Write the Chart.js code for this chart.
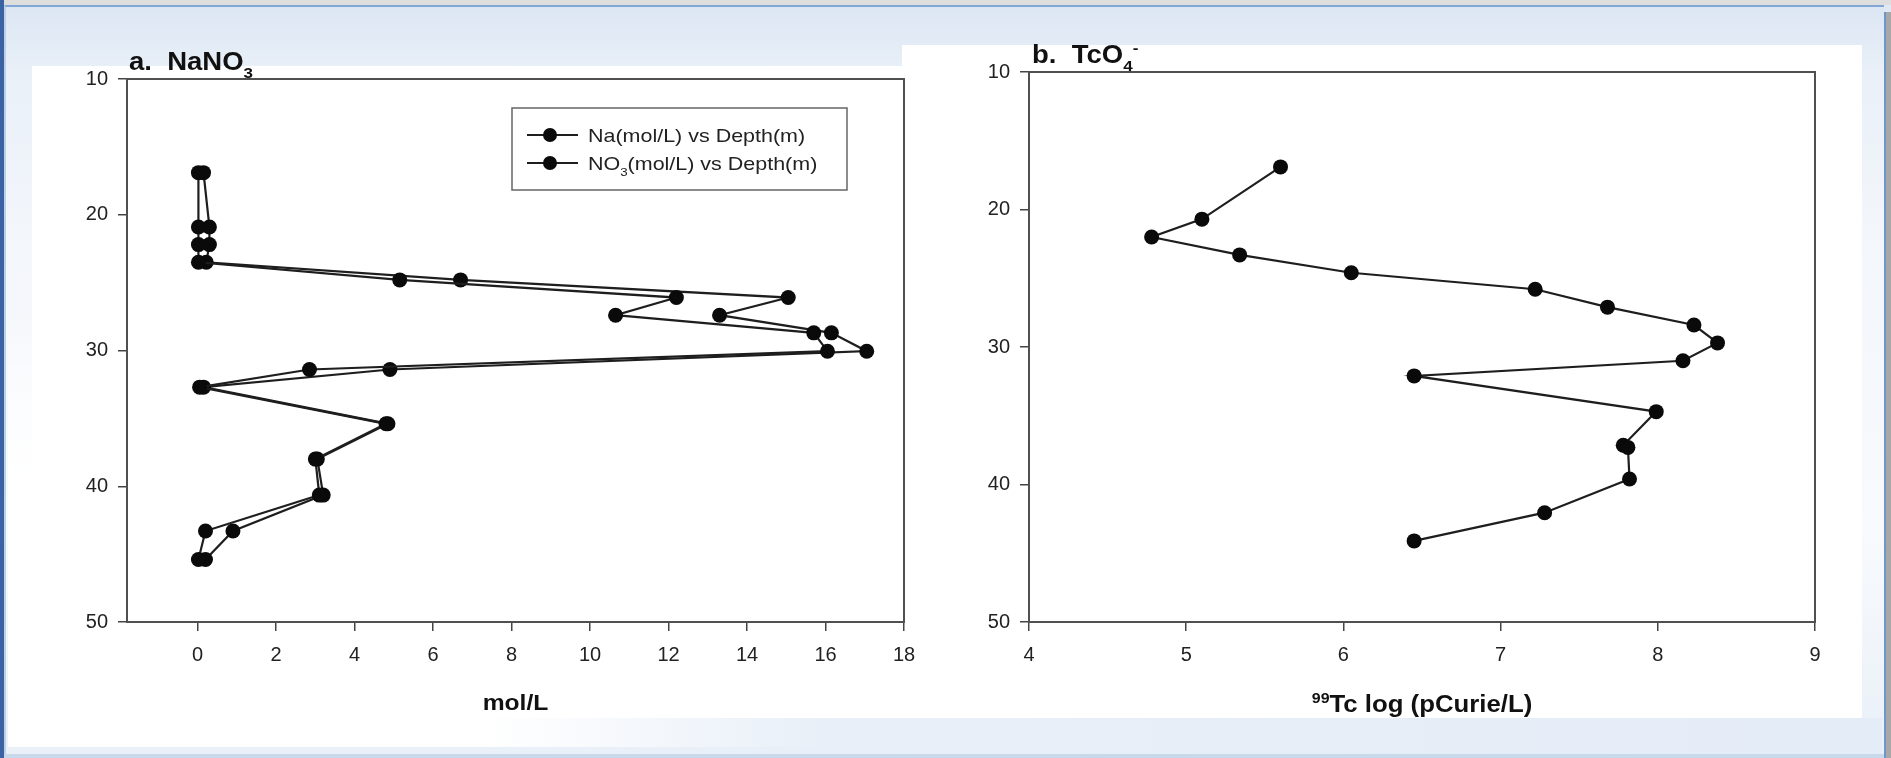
<!DOCTYPE html>
<html>
<head>
<meta charset="utf-8">
<script src="https://cdn.jsdelivr.net/npm/chart.js@4/dist/chart.umd.min.js"></script>
<style>
  html, body { margin: 0; padding: 0; }
  body { width: 1891px; height: 758px; overflow: hidden; position: relative; background: #dfe8f4; }
  .abs { position: absolute; }
  #slide { left: 4px; top: 5px; width: 1878px; height: 750px;
    background: linear-gradient(180deg, #dce6f3 0%, #e9f0f8 9%, #f3f6fb 30%, #f8fafd 70%, #e9f0f8 100%);
    border-top: 2px solid #80a7d6; border-left: 2px solid #bcd0e8; }
  #topband { left: 0; top: 0; width: 1891px; height: 5px; background: #dedede; }
  #leftstrip { left: 0; top: 0; width: 4px; height: 758px; background: #3b62a3; }
  #rightgrey { left: 1884px; top: 12px; width: 7px; height: 746px; background: #a8a8a8; border-left: 2px solid #6e96c8; }
  #panelA { left: 32px; top: 66px; width: 873px; height: 681px; background: #fff; }
  #panelA2 { left: 8px; top: 300px; width: 30px; height: 447px; background: linear-gradient(180deg, rgba(255,255,255,0), #fff 40%); }
  #panelB { left: 902px; top: 45px; width: 960px; height: 675px; background: #fff; }
  #bottomband { left: 480px; top: 718px; width: 1402px; height: 37px;
    background: linear-gradient(90deg, rgba(230,238,248,0) 0%, #e8eff8 25%, #e4ecf7 100%); }
  #bottomline { left: 4px; top: 754px; width: 1880px; height: 4px; background: #c9d9ec; }
  canvas { position: absolute; top: 0; }
</style>
</head>
<body>
<div id="topband" class="abs"></div>
<div id="slide" class="abs"></div>
<div id="leftstrip" class="abs"></div>
<div id="rightgrey" class="abs"></div>
<div id="panelA" class="abs"></div>
<div id="panelA2" class="abs"></div>
<div id="panelB" class="abs"></div>
<div id="bottomband" class="abs"></div>
<div id="bottomline" class="abs"></div>
<canvas id="chartA" width="945" height="758" style="left:0"></canvas>
<canvas id="chartB" width="946" height="758" style="left:945px"></canvas>
<script>
// Panel a: NaNO3 profile
const depthA = [16.9, 20.9, 22.2, 23.5, 24.8, 26.1, 27.4, 28.7, 30.05, 31.4, 32.7, 35.4, 38.0, 40.65, 43.3, 45.4];
const naMol  = [0.02, 0.02, 0.02, 0.02, 5.15, 12.2, 10.65, 15.7, 16.05, 2.85, 0.05, 4.8, 3.0, 3.1, 0.2, 0.02];
const no3Mol = [0.15, 0.3, 0.3, 0.22, 6.7, 15.05, 13.3, 16.15, 17.05, 4.9, 0.15, 4.85, 3.05, 3.2, 0.9, 0.2];
const xTicksA = [0, 2, 4, 6, 8, 10, 12, 14, 16, 18];

// Panel b: TcO4- profile
const depthB = [16.9, 20.7, 22.0, 23.3, 24.6, 25.8, 27.1, 28.4, 29.7, 31.0, 32.1, 34.7, 37.15, 37.3, 39.6, 42.05, 44.1];
const tcLog  = [5.60, 5.10, 4.78, 5.34, 6.05, 7.22, 7.68, 8.23, 8.38, 8.16, 6.45, 7.99, 7.78, 7.81, 7.82, 7.28, 6.45];
const xTicksB = [4, 5, 6, 7, 8, 9];
const yTicks = [10, 20, 30, 40, 50];

// text with sub/superscripts
const titleA = [{ t: 'a.  NaNO' }, { t: '3', sub: true }];
const titleB = [{ t: 'b.  TcO' }, { t: '4', sub: true }, { t: '-', sup: true }];
const xTitleA = [{ t: 'mol/L' }];
const xTitleB = [{ t: '99', sup: true }, { t: 'Tc log (pCurie/L)' }];
const legendA = [
    [{ t: 'Na(mol/L) vs Depth(m)' }],
    [{ t: 'NO' }, { t: '3', sub: true }, { t: '(mol/L) vs Depth(m)' }]
];

const FONT = '"Liberation Sans", Arial, Helvetica, sans-serif';
const toPts = (xs, ys) => xs.map((v, i) => ({ x: v, y: ys[i] }));

function runFont(size, bold) {
    return (bold ? 'bold ' : '') + size + 'px ' + FONT;
}

function drawRuns(ctx, runs, x, y, o) {
    const sx = o.sx || 1;
    ctx.save();
    ctx.fillStyle = o.color || '#111';
    ctx.textAlign = 'left';
    ctx.textBaseline = 'alphabetic';
    const parts = runs.map(r => {
        const size = (r.sub || r.sup) ? o.size * 0.62 : o.size;
        ctx.font = runFont(size, o.bold);
        return {
            text: r.t, size,
            dy: r.sub ? o.size * 0.3 : (r.sup ? -o.size * 0.4 : 0),
            w: ctx.measureText(r.t).width * sx
        };
    });
    const total = parts.reduce((a, p) => a + p.w, 0);
    let cx = o.align === 'center' ? x - total / 2 : x;
    parts.forEach(p => {
        ctx.font = runFont(p.size, o.bold);
        ctx.save();
        ctx.translate(cx, y + p.dy);
        ctx.scale(sx, 1);
        ctx.fillText(p.text, 0, 0);
        ctx.restore();
        cx += p.w;
    });
    ctx.restore();
}

// titles, axis titles and the boxed legend
const richText = {
    id: 'richText',
    afterDraw(chart, args, opts) {
        const ctx = chart.ctx;
        const a = chart.chartArea;
        (opts.items || []).forEach(it => {
            const [x, y] = it.at(a);
            drawRuns(ctx, it.runs, x, y, it);
        });
        const lg = opts.legend;
        if (lg) {
            const bx = a.left + lg.dx, by = a.top + lg.dy;
            ctx.save();
            ctx.fillStyle = '#fff';
            ctx.fillRect(bx, by, lg.w, lg.h);
            ctx.strokeStyle = '#666';
            ctx.lineWidth = 1.5;
            ctx.strokeRect(bx, by, lg.w, lg.h);
            lg.labels.forEach((runs, i) => {
                const ds = chart.data.datasets[i];
                const ly = by + lg.rows[i];
                ctx.strokeStyle = ds.borderColor;
                ctx.lineWidth = ds.borderWidth;
                ctx.beginPath();
                ctx.moveTo(bx + 15, ly);
                ctx.lineTo(bx + 66, ly);
                ctx.stroke();
                ctx.fillStyle = ds.pointBackgroundColor;
                ctx.beginPath();
                ctx.arc(bx + 38, ly, 7, 0, Math.PI * 2);
                ctx.fill();
                drawRuns(ctx, runs, bx + 76, ly + 7, { size: 19, sx: 1.13, color: '#222' });
            });
            ctx.restore();
        }
    }
};

function seriesStyle(label, data) {
    return {
        label, data, showLine: true,
        borderColor: '#1e1e1e', borderWidth: 2.2,
        pointRadius: 7.5, pointHoverRadius: 7.5,
        pointBackgroundColor: '#0a0a0a', pointBorderColor: '#0a0a0a', pointBorderWidth: 0
    };
}

function makeScales(xMin, xMax, xTicks, yW) {
    const tickFont = { family: FONT, size: 20 };
    const axisGrid = { display: true, drawOnChartArea: false, drawTicks: true, tickLength: 9, color: '#444', lineWidth: 1.5 };
    const axisBorder = { display: true, color: '#505050', width: 2 };
    return {
        x: {
            type: 'linear', position: 'bottom', min: xMin, max: xMax,
            afterBuildTicks: s => { s.ticks = xTicks.map(v => ({ value: v })); },
            afterFit: s => { s.height = 50; },
            ticks: { font: tickFont, color: '#222', padding: 12, maxRotation: 0, autoSkip: false },
            grid: axisGrid, border: axisBorder
        },
        y: {
            type: 'linear', position: 'left', min: 10, max: 50, reverse: true,
            afterBuildTicks: s => { s.ticks = yTicks.map(v => ({ value: v })); },
            afterFit: s => { s.width = yW; },
            ticks: { font: tickFont, color: '#222', padding: 10 },
            grid: axisGrid, border: axisBorder
        },
        x2: {
            type: 'linear', position: 'top', min: xMin, max: xMax,
            afterFit: s => { s.height = 0; },
            ticks: { display: false }, grid: { display: false }, border: axisBorder
        },
        y2: {
            type: 'linear', position: 'right', min: 10, max: 50, reverse: true,
            afterFit: s => { s.width = 0; },
            ticks: { display: false }, grid: { display: false }, border: axisBorder
        }
    };
}

const commonPlugins = { legend: { display: false }, tooltip: { enabled: false } };

new Chart(document.getElementById('chartA'), {
    type: 'scatter',
    data: {
        datasets: [
            seriesStyle('Na(mol/L) vs Depth(m)', toPts(naMol, depthA)),
            seriesStyle('NO3(mol/L) vs Depth(m)', toPts(no3Mol, depthA))
        ]
    },
    options: {
        responsive: false, animation: false, events: [],
        layout: { padding: { left: 67, top: 79, right: 41, bottom: 86 } },
        scales: makeScales(-1.8, 18, xTicksA, 60),
        plugins: Object.assign({}, commonPlugins, {
            richText: {
                items: [
                    { runs: titleA, at: a => [a.left + 2, a.top - 9], size: 25, bold: true, sx: 1.1 },
                    { runs: xTitleA, at: a => [(a.left + a.right) / 2, a.bottom + 88], size: 22, bold: true, sx: 1.12, align: 'center' }
                ],
                legend: { dx: 385, dy: 29, w: 335, h: 82, rows: [27, 55], labels: legendA }
            }
        })
    },
    plugins: [richText]
});

new Chart(document.getElementById('chartB'), {
    type: 'scatter',
    data: {
        datasets: [seriesStyle('TcO4 vs Depth(m)', toPts(tcLog, depthB))]
    },
    options: {
        responsive: false, animation: false, events: [],
        layout: { padding: { left: 24, top: 72, right: 76, bottom: 86 } },
        scales: makeScales(4, 9, xTicksB, 60),
        plugins: Object.assign({}, commonPlugins, {
            richText: {
                items: [
                    { runs: titleB, at: a => [a.left + 3, a.top - 9], size: 25, bold: true, sx: 1.1 },
                    { runs: xTitleB, at: a => [(a.left + a.right) / 2, a.bottom + 90], size: 23, bold: true, sx: 1.12, align: 'center' }
                ]
            }
        })
    },
    plugins: [richText]
});
</script>
</body>
</html>
